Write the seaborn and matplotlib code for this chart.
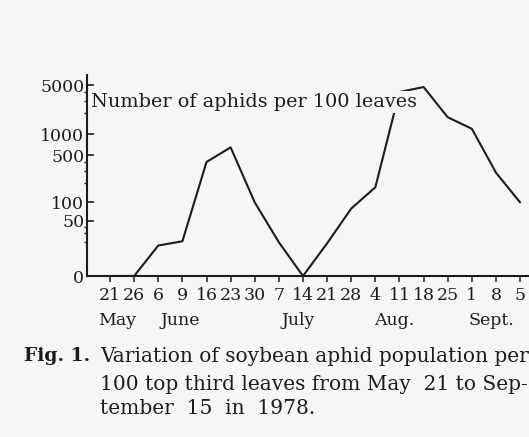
import numpy as np
import pandas as pd
import matplotlib
matplotlib.use("Agg")
import matplotlib.pyplot as plt
import seaborn as sns

# ---- data ----
date_labels = ["21", "26", "6", "9", "16", "23", "30", "7", "14", "21", "28",
               "4", "11", "18", "25", "1", "8", "5"]
aphids = [0, 0, 17, 21, 400, 650, 100, 20, 0, 19, 80, 170, 4000, 4700,
          1750, 1200, 280, 100]
month_labels = ["May", "June", "July", "Aug.", "Sept."]
month_pos = [0.3, 2.9, 7.8, 11.8, 15.8]
ytick_values = [0, 50, 100, 500, 1000, 5000]
ytick_labels = ["0", "50", "100", "500", "1000", "5000"]
yminor_values = [20, 30, 40, 200, 300, 400, 2000, 3000, 4000]

df = pd.DataFrame({"idx": np.arange(len(aphids)), "aphids": aphids})

sns.set_style("white")
plt.rcParams["font.family"] = ["DejaVu Serif"]
bg = "#f6f6f6"
ink = "#1c1c1c"

fig = plt.figure(figsize=(5.29, 4.37), dpi=100, facecolor=bg)
ax = fig.add_axes([0.1645, 0.3684, 0.8355, 0.46])
ax.set_facecolor(bg)

sns.lineplot(data=df, x="idx", y="aphids", ax=ax, color=ink, linewidth=1.5,
             zorder=2)

fwd = lambda y: np.log10(np.clip(y, -9.99, None) + 10)
inv = lambda v: 10 ** v - 10
ax.set_yscale("function", functions=(fwd, inv))
ax.set_ylim(0, 6960)
ax.set_xlim(-0.954, 17.37)

ax.set_yticks(ytick_values)
ax.set_yticklabels(ytick_labels, fontsize=12.5, color=ink)
ax.set_yticks(yminor_values, minor=True)
ax.tick_params(axis="y", which="major", direction="in", length=5, width=1.2,
               pad=2, colors=ink, left=True)
ax.tick_params(axis="y", which="minor", direction="out", length=2.5,
               width=1, colors=ink, left=True)

ax.set_xticks(df["idx"])
ax.set_xticklabels(date_labels, fontsize=12.5, color=ink)
ax.tick_params(axis="x", which="major", direction="out", length=4, width=1.1,
               pad=4, colors=ink, bottom=True)
ax.tick_params(axis="x", which="minor", bottom=False)

for s in ["top", "right"]:
    ax.spines[s].set_visible(False)
for s in ["left", "bottom"]:
    ax.spines[s].set_color(ink)
    ax.spines[s].set_linewidth(1.5)
ax.set_xlabel("")
ax.set_ylabel("")

# month labels under the date labels
for lab, p in zip(month_labels, month_pos):
    ax.text(p, -0.22, lab, transform=ax.get_xaxis_transform(), ha="center",
            va="center", fontsize=12.5, color=ink)

ax.text(0.01, 0.865, "Number of aphids per 100 leaves", transform=ax.transAxes,
        ha="left", va="center", fontsize=13.9, color=ink, zorder=5,
        bbox=dict(facecolor=bg, edgecolor="none", pad=1.5))

fig.text(24 / 529, 1 - 356 / 437, "Fig. 1.", fontsize=13.5, fontweight="bold",
         color=ink, ha="left", va="center")
fig.text(100 / 529, 1 - 357 / 437,
         "Variation of soybean aphid population per", fontsize=14.5,
         color=ink, ha="left", va="center")
fig.text(100 / 529, 1 - 385 / 437,
         "100 top third leaves from May  21 to Sep-", fontsize=14.5,
         color=ink, ha="left", va="center")
fig.text(100 / 529, 1 - 408 / 437, "tember  15  in  1978.", fontsize=14.5,
         color=ink, ha="left", va="center")

fig.savefig("out.png", dpi=100, facecolor=bg)
